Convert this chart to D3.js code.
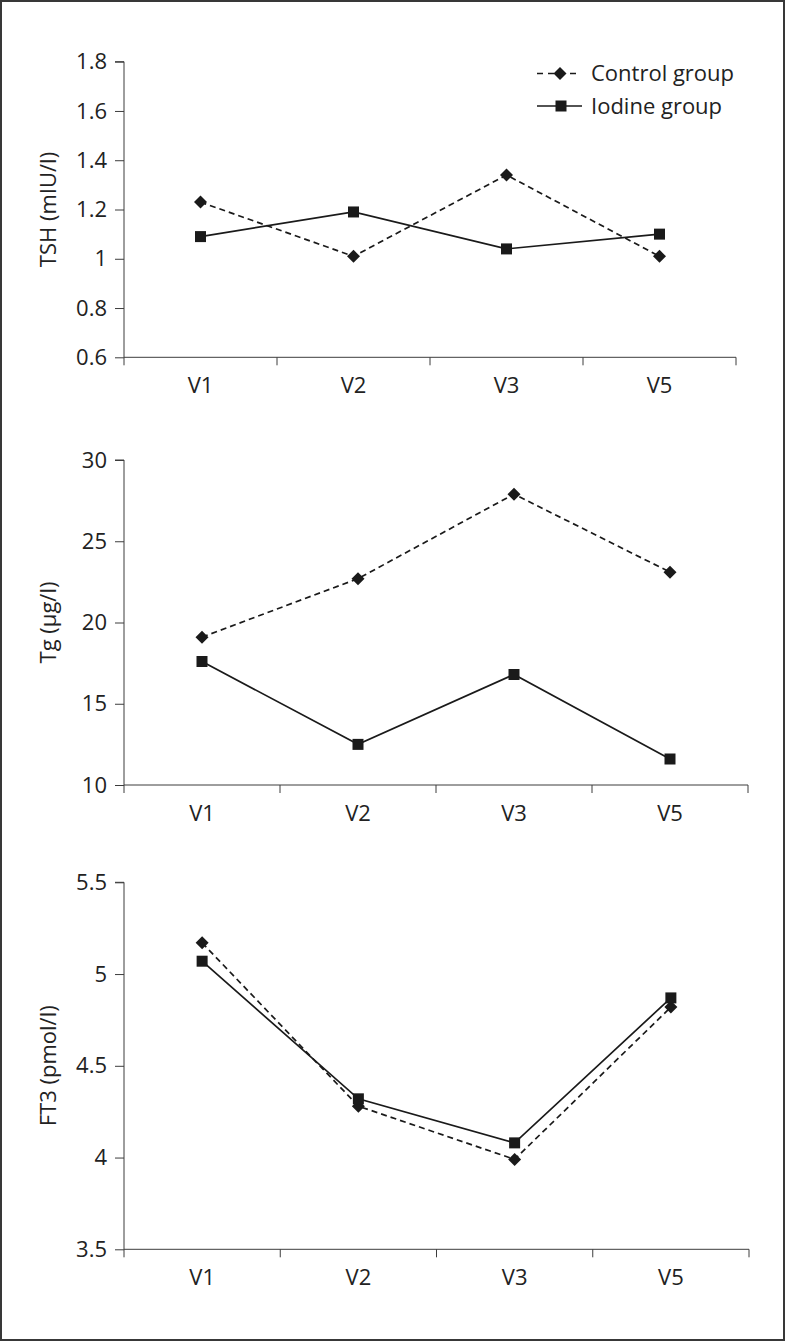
<!DOCTYPE html>
<html>
<head>
<meta charset="utf-8">
<script src="https://cdn.jsdelivr.net/npm/d3@7"></script>
<style>
  html, body { margin: 0; padding: 0; background: #fff; }
  svg { display: block; }
  text { font-family: "Open Sans", "Noto Sans", sans-serif; fill: #222; }
</style>
</head>
<body>
<svg id="chart" width="786" height="1342"></svg>
<script>
// ---- Data ----
const visits = ["V1", "V2", "V3", "V5"];
const seriesNames = ["Control group", "Iodine group"];

const tshControl = [1.23, 1.01, 1.34, 1.01];
const tshIodine  = [1.09, 1.19, 1.04, 1.10];
const tshTicks   = [0.6, 0.8, 1.0, 1.2, 1.4, 1.6, 1.8];

const tgControl = [19.1, 22.7, 27.9, 23.1];
const tgIodine  = [17.6, 12.5, 16.8, 11.6];
const tgTicks   = [10, 15, 20, 25, 30];

const ft3Control = [5.17, 4.28, 3.99, 4.82];
const ft3Iodine  = [5.07, 4.32, 4.08, 4.87];
const ft3Ticks   = [3.5, 4, 4.5, 5, 5.5];

const yLabels = ["TSH (mIU/l)", "Tg (µg/l)", "FT3 (pmol/l)"];

// ---- Layout ----
const svg = d3.select("#chart");
const ink = "#1a1a1a";
const axisColor = "#3c3c3c";
const fs = "22px";

svg.append("rect")
  .attr("x", 1).attr("y", 1).attr("width", 783).attr("height", 1339)
  .attr("fill", "none").attr("stroke", "#383838").attr("stroke-width", 2);

const panels = [
  { control: tshControl, iodine: tshIodine, ticks: tshTicks, label: yLabels[0],
    x0: 124, x1: 736, yTop: 61.7, yBot: 357.3 },
  { control: tgControl, iodine: tgIodine, ticks: tgTicks, label: yLabels[1],
    x0: 124, x1: 748, yTop: 460, yBot: 785 },
  { control: ft3Control, iodine: ft3Iodine, ticks: ft3Ticks, label: yLabels[2],
    x0: 124, x1: 749, yTop: 882.3, yBot: 1249.3 }
];

function drawDiamond(g, cx, cy, r) {
  g.append("path")
    .attr("d", `M${cx},${cy - r}L${cx + r},${cy}L${cx},${cy + r}L${cx - r},${cy}Z`)
    .attr("fill", ink);
}
function drawSquare(g, cx, cy, s) {
  g.append("rect")
    .attr("x", cx - s / 2).attr("y", cy - s / 2)
    .attr("width", s).attr("height", s).attr("fill", ink);
}

panels.forEach(p => {
  const g = svg.append("g");
  const x = d3.scaleBand().domain(visits).range([p.x0, p.x1]).paddingInner(0).paddingOuter(0);
  const y = d3.scaleLinear()
    .domain([p.ticks[0], p.ticks[p.ticks.length - 1]])
    .range([p.yBot, p.yTop]);

  // Y axis
  const yAxis = d3.axisLeft(y).tickValues(p.ticks).tickSize(9).tickPadding(8)
    .tickFormat(d => String(+d.toFixed(2)));
  const ya = g.append("g").attr("transform", `translate(${p.x0},0)`).call(yAxis);
  ya.select(".domain").attr("stroke", axisColor).attr("d", `M-9,${p.yTop}H0V${p.yBot}`);
  ya.selectAll(".tick line").attr("stroke", axisColor);
  ya.selectAll(".tick text").attr("fill", "#222").style("font-size", fs)
    .style("font-family", '"Open Sans", sans-serif');

  // X axis
  const xa = g.append("g").attr("transform", `translate(0,${p.yBot})`);
  xa.append("line").attr("x1", p.x0).attr("x2", p.x1).attr("y1", 0).attr("y2", 0)
    .attr("stroke", axisColor);
  const edges = visits.map(v => x(v)).concat([x(visits[visits.length - 1]) + x.bandwidth()]);
  edges.forEach(e => {
    xa.append("line").attr("x1", e).attr("x2", e).attr("y1", 0).attr("y2", 8)
      .attr("stroke", axisColor);
  });
  visits.forEach(v => {
    xa.append("text").attr("x", x(v) + x.bandwidth() / 2).attr("y", 36)
      .attr("text-anchor", "middle").style("font-size", fs).text(v);
  });

  // Y label
  g.append("text")
    .attr("transform", `translate(56,${(p.yTop + p.yBot) / 2}) rotate(-90)`)
    .attr("text-anchor", "middle").style("font-size", fs).text(p.label);

  const cx = v => x(v) + x.bandwidth() / 2;
  const line = d3.line().x((d, i) => cx(visits[i])).y(d => y(d));

  g.append("path").datum(p.control).attr("d", line)
    .attr("fill", "none").attr("stroke", ink).attr("stroke-width", 1.7)
    .attr("stroke-dasharray", "6,4");
  g.append("path").datum(p.iodine).attr("d", line)
    .attr("fill", "none").attr("stroke", ink).attr("stroke-width", 1.7);

  p.control.forEach((d, i) => drawDiamond(g, cx(visits[i]), y(d), 6.5));
  p.iodine.forEach((d, i) => drawSquare(g, cx(visits[i]), y(d), 11));
});

// Legend
const lg = svg.append("g");
lg.append("line").attr("x1", 537).attr("x2", 581).attr("y1", 73.5).attr("y2", 73.5)
  .attr("stroke", ink).attr("stroke-width", 1.7).attr("stroke-dasharray", "6,5");
drawDiamond(lg, 560, 73.5, 6.5);
lg.append("text").attr("x", 591).attr("y", 81).style("font-size", fs).text(seriesNames[0]);
lg.append("line").attr("x1", 537).attr("x2", 582).attr("y1", 106).attr("y2", 106)
  .attr("stroke", ink).attr("stroke-width", 1.7);
drawSquare(lg, 561, 106, 11);
lg.append("text").attr("x", 591).attr("y", 113.5).style("font-size", fs).text(seriesNames[1]);
</script>
</body>
</html>
